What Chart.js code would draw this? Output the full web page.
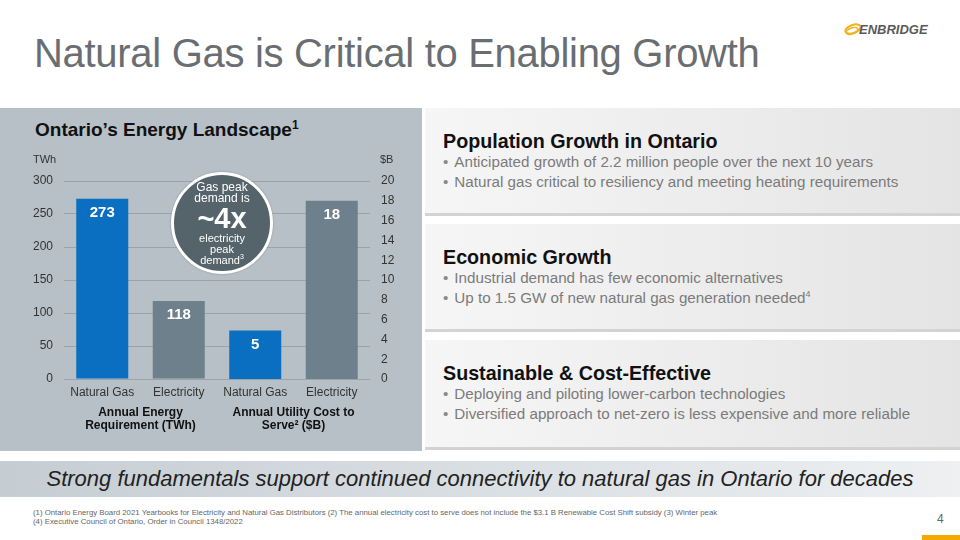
<!DOCTYPE html>
<html><head><meta charset="utf-8">
<script src="https://cdn.jsdelivr.net/npm/chart.js@4.4.1/dist/chart.umd.min.js"></script>
<style>
body{margin:0;width:960px;height:540px;overflow:hidden;background:#fff;font-family:"Liberation Sans",Arial,sans-serif;position:relative}
.abs{position:absolute}
#title{left:34px;top:31px;font-size:40px;color:#6a6e72;white-space:nowrap;letter-spacing:-0.3px}
#panel{left:0;top:108px;width:422px;height:343px;background:#b7c0c7}
#ptitle{left:35px;top:119px;font-size:19px;font-weight:bold;color:#111}
#ptitle sup{font-size:12px;line-height:0}
.box{left:425px;width:535px;background:linear-gradient(90deg,#f6f6f6,#e4e4e4);border-bottom:3px solid #d3d3d3;box-sizing:border-box}
.box h3{margin:0;position:absolute;left:18px;font-size:19.7px;color:#111}
.box ul{margin:0;padding:0;list-style:none;position:absolute;left:18px;font-size:15.2px;color:#7b7b7b;line-height:20px;white-space:nowrap}
.box li:before{content:"\2022";margin-right:6px;color:#8a8a8a}
.box sup{font-size:9px;line-height:0;vertical-align:6px}
#banner{left:0;top:461px;width:960px;height:36px;background:linear-gradient(90deg,#c5cdd3,#eef0f2);font-style:italic;font-size:22px;color:#222;text-align:center;line-height:36px;white-space:nowrap}
#foot{left:33px;top:509px;font-size:7.8px;color:#666;line-height:8.5px;white-space:nowrap}
#pnum{left:937px;top:512px;font-size:12px;color:#666}
#obar{left:922px;top:535px;width:38px;height:5px;background:#f5a800}
#callout{left:171px;top:172px;width:96px;height:96px;border-radius:50%;background:#55636b;border:3px solid #fff;color:#fff;text-align:center;box-shadow:0 0 2px rgba(0,0,0,.3)}
</style></head>
<body>
<div class="abs" id="title">Natural Gas is Critical to Enabling Growth</div>
<svg class="abs" style="left:842px;top:18px" width="92" height="22" viewBox="0 0 92 22">
<ellipse cx="11" cy="11" rx="8" ry="4" fill="none" stroke="#f2b21b" stroke-width="2" transform="rotate(-20 11 11)"/>
<ellipse cx="10" cy="13" rx="6" ry="3" fill="none" stroke="#f2b21b" stroke-width="1.6" transform="rotate(-20 10 13)"/>
<text x="17" y="16" font-family="Liberation Sans,Arial" font-weight="bold" font-style="italic" font-size="13" fill="#5a5a5a">ENBRIDGE</text>
</svg>
<div class="abs" id="panel"></div>
<div class="abs" id="ptitle">Ontario’s Energy Landscape<sup>1</sup></div>
<div class="abs" style="left:0;top:150px;width:425px;height:300px"><canvas id="c" width="425" height="300"></canvas></div>
<div class="abs" id="callout">
<div style="font-size:12px;line-height:11px;margin-top:7px">Gas peak<br>demand is</div>
<div style="font-size:29px;font-weight:bold;line-height:29px">~4x</div>
<div style="font-size:11px;line-height:11px">electricity<br>peak<br>demand<sup style="font-size:7px;line-height:0">3</sup></div>
</div>
<div class="abs box" style="top:108px;height:108px"><h3 style="top:22px">Population Growth in Ontario</h3><ul style="top:44px"><li>Anticipated growth of 2.2 million people over the next 10 years</li><li>Natural gas critical to resiliency and meeting heating requirements</li></ul></div>
<div class="abs box" style="top:224px;height:108px"><h3 style="top:22px">Economic Growth</h3><ul style="top:44px"><li>Industrial demand has few economic alternatives</li><li>Up to 1.5 GW of new natural gas generation needed<sup>4</sup></li></ul></div>
<div class="abs box" style="top:340px;height:110px"><h3 style="top:22px">Sustainable &amp; Cost-Effective</h3><ul style="top:44px"><li>Deploying and piloting lower-carbon technologies</li><li>Diversified approach to net-zero is less expensive and more reliable</li></ul></div>
<div class="abs" id="banner">Strong fundamentals support continued connectivity to natural gas in Ontario for decades</div>
<div class="abs" id="foot">(1) Ontario Energy Board 2021 Yearbooks for Electricity and Natural Gas Distributors (2) The annual electricity cost to serve does not include the $3.1 B Renewable Cost Shift subsidy (3) Winter peak<br>(4) Executive Council of Ontario, Order in Council 1348/2022</div>
<div class="abs" id="pnum">4</div>
<div class="abs" id="obar"></div>
<script>
const categories = ["Natural Gas", "Electricity", "Natural Gas", "Electricity"];
const energyTWh = [273, 118, null, null];
const costBillion = [null, null, 4.9, 18];
const leftTicks = [0, 50, 100, 150, 200, 250, 300];
const rightTicks = [0, 2, 4, 6, 8, 10, 12, 14, 16, 18, 20];
const groupLabels = [["Annual Energy", "Requirement (TWh)"], ["Annual Utility Cost to", "Serve\u00b2 ($B)"]];
const unitLeft = "TWh", unitRight = "$B";

const BLUE = "#0a6fc1", GRAY = "#6e808b";
const barColors = [BLUE, GRAY, BLUE, GRAY];
const FONT = "'Liberation Sans', Arial, sans-serif";

const labelPlugin = {
  id: "labels",
  afterDatasetsDraw(chart) {
    const ctx = chart.ctx;
    ctx.save();
    ctx.fillStyle = "#fff";
    ctx.font = "bold 15px " + FONT;
    ctx.textAlign = "center";
    ctx.textBaseline = "middle";
    chart.data.datasets.forEach((ds, di) => {
      const meta = chart.getDatasetMeta(di);
      ds.data.forEach((v, i) => {
        if (v == null) return;
        const el = meta.data[i];
        ctx.fillText(String(Math.round(v)), el.x, el.y + 14);
      });
    });
    const xs = chart.scales.x;
    ctx.fillStyle = "#111";
    ctx.font = "bold 12px " + FONT;
    groupLabels.forEach((lines, g) => {
      const cx = (xs.getPixelForValue(g * 2) + xs.getPixelForValue(g * 2 + 1)) / 2;
      lines.forEach((t, k) => ctx.fillText(t, cx, 263 + k * 13));
    });
    ctx.fillStyle = "#333";
    ctx.font = "11px " + FONT;
    ctx.textAlign = "left";
    ctx.fillText(unitLeft, 33, 10);
    ctx.fillText(unitRight, 380, 10);
    ctx.restore();
  }
};

new Chart(document.getElementById("c"), {
  type: "bar",
  data: {
    labels: categories,
    datasets: [
      { data: energyTWh, yAxisID: "y", backgroundColor: barColors, borderWidth: 0, grouped: false, barPercentage: 0.68, categoryPercentage: 1 },
      { data: costBillion, yAxisID: "y2", backgroundColor: barColors, borderWidth: 0, grouped: false, barPercentage: 0.68, categoryPercentage: 1 }
    ]
  },
  options: {
    responsive: false,
    animation: false,
    events: [],
    layout: { padding: { top: 31, bottom: 0, left: 0, right: 0 } },
    plugins: { legend: { display: false }, tooltip: { enabled: false } },
    scales: {
      x: {
        grid: { display: false, drawTicks: false },
        border: { display: false },
        ticks: { color: "#333", font: { family: FONT, size: 12 }, padding: 6, maxRotation: 0 },
        afterFit: s => { s.height = 71; }
      },
      y: {
        position: "left", min: 0, max: 300,
        afterBuildTicks: s => { s.ticks = leftTicks.map(v => ({ value: v })); },
        grid: { color: "#9aa3aa", lineWidth: 1, drawTicks: false },
        border: { display: false },
        ticks: { color: "#333", font: { family: FONT, size: 12 }, padding: 11 },
        afterFit: s => { s.width = 64; }
      },
      y2: {
        position: "right", min: 0, max: 20,
        afterBuildTicks: s => { s.ticks = rightTicks.map(v => ({ value: v })); },
        grid: { display: false, drawTicks: false },
        border: { display: false },
        ticks: { color: "#333", font: { family: FONT, size: 12 }, padding: 11 },
        afterFit: s => { s.width = 55; }
      }
    }
  },
  plugins: [labelPlugin]
});
</script>
</body></html>
